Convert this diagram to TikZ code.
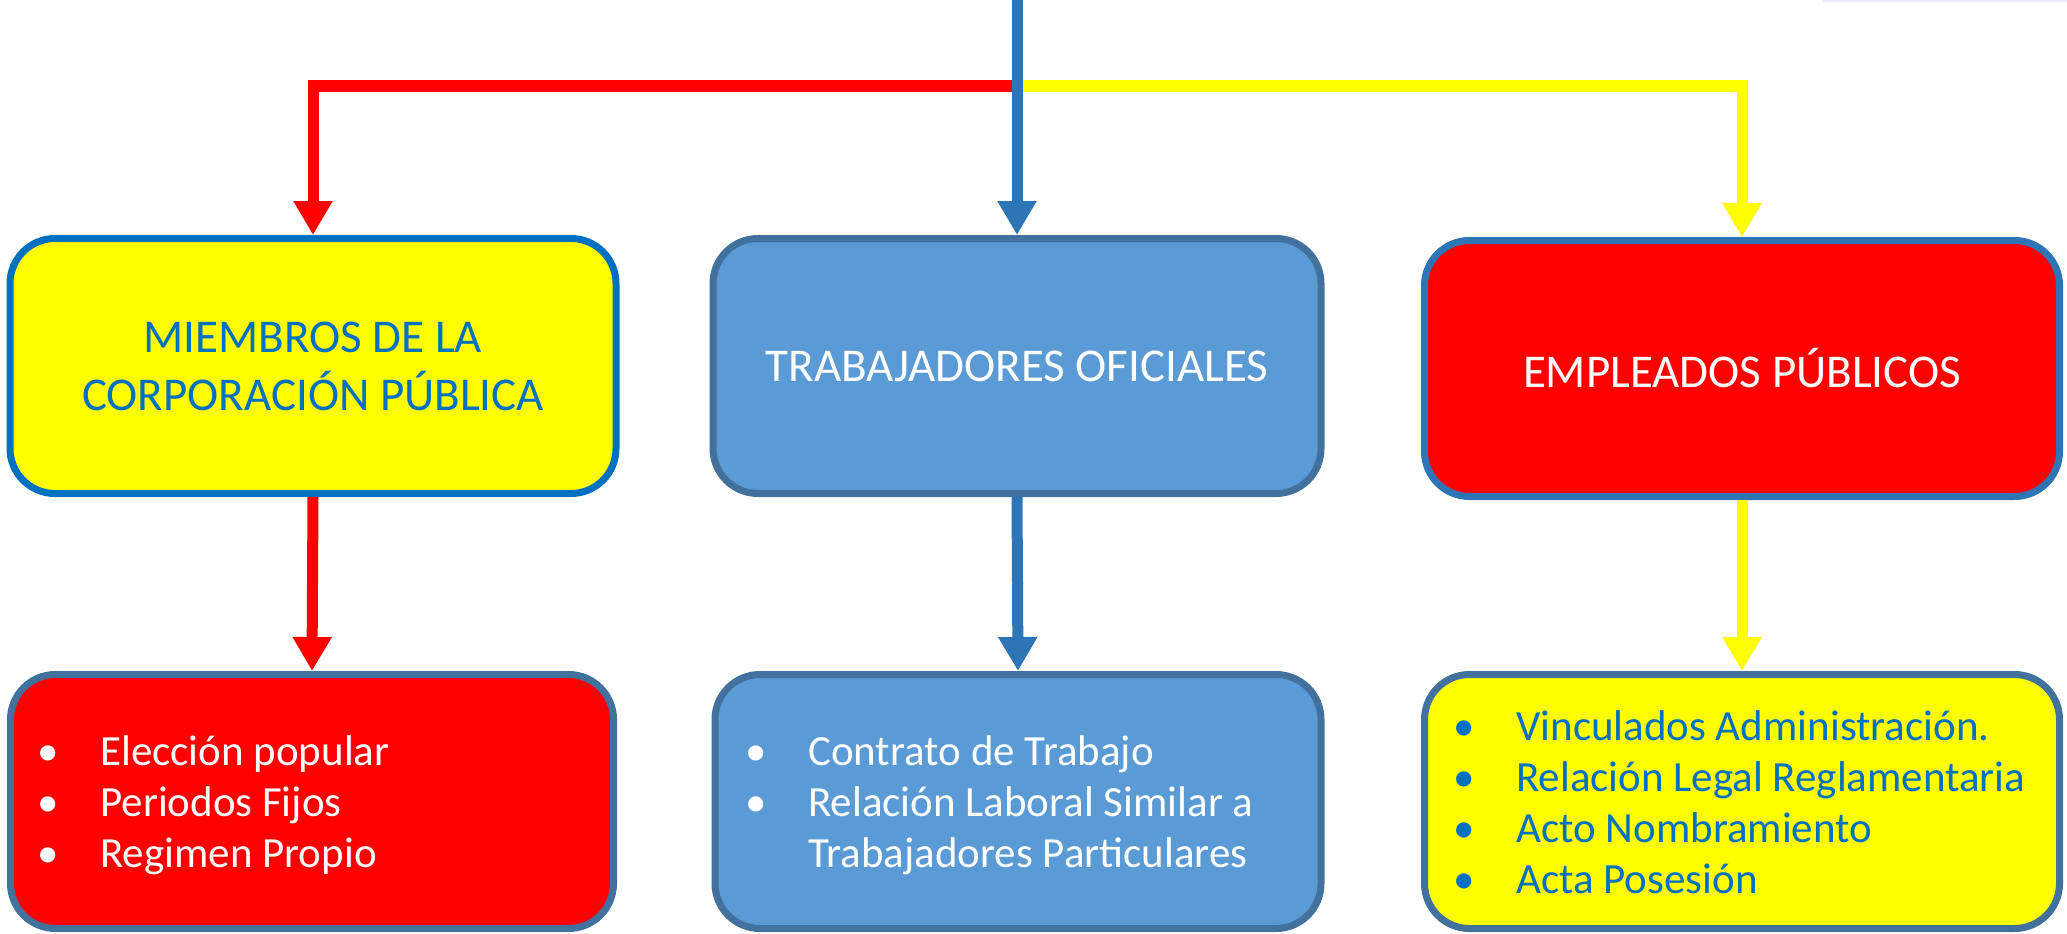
\documentclass[tikz,border=0pt]{standalone}
\usepackage{fontspec}
\setmainfont{Carlito}
\usetikzlibrary{arrows.meta}
\definecolor{lineblue}{HTML}{2E75B6}
\definecolor{pureRed}{HTML}{FF0000}
\definecolor{pureYellow}{HTML}{FFFF00}
\definecolor{textblue}{HTML}{0070C0}
\definecolor{midfill}{HTML}{5B9BD5}
\definecolor{darkborder}{HTML}{41719C}
\definecolor{faint}{HTML}{EDEEF6}
\newcommand{\bul}{\makebox[55pt][l]{\hspace{-8pt}\textbullet}}
\begin{document}
\begin{tikzpicture}[x=1pt,y=-1pt,
  box/.style={rounded corners=45pt, line width=7pt, minimum width=606pt, minimum height=255pt, inner sep=0pt, align=center},
  toptext/.style={font=\fontsize{47}{58}\selectfont},
  listtext/.style={font=\fontsize{43}{51}\selectfont, anchor=base west, inner sep=0pt, align=left},
  conn/.style={line width=11pt, -{Triangle[width=37pt,length=34pt]}}
]
\useasboundingbox (0,0) rectangle (2067,934);
\draw[faint, line width=2pt] (1823,1) -- (2067,1);

% top boxes
\node[box, toptext, fill=pureYellow, draw=textblue, text=textblue] (tl) at (313,366) {MIEMBROS DE LA\\CORPORACIÓN PÚBLICA};
\node[box, toptext, fill=midfill, draw=darkborder, text=white, minimum width=608pt] (tm) at (1017,366) {TRABAJADORES OFICIALES};
\node[box, toptext, fill=pureRed, draw=lineblue, text=white, minimum width=635pt, minimum height=256pt] (tr) at (1742,368.5) {EMPLEADOS PÚBLICOS};

% bottom boxes
\node[box, fill=pureRed, draw=darkborder, minimum width=603pt, minimum height=254pt] (bl) at (312,801.5) {};
\node[box, fill=midfill, draw=darkborder, minimum width=606pt, minimum height=254pt] (bm) at (1018,801.5) {};
\node[box, fill=pureYellow, draw=darkborder, minimum width=635pt, minimum height=254pt] (br) at (1742,801.5) {};

% list texts
\node[listtext, text=white] (bltext) at (45,765) {\begin{tabular}[t]{@{}l@{}}
\bul Elección popular\\
\bul Periodos Fijos\\
\bul Regimen Propio
\end{tabular}};
\node[listtext, text=white] (bmtext) at (753,765) {\begin{tabular}[t]{@{}l@{}}
\bul Contrato de Trabajo\\
\bul Relación Laboral Similar a\\
\makebox[55pt]{}Trabajadores Particulares
\end{tabular}};
\node[listtext, text=textblue] (brtext) at (1461,740) {\begin{tabular}[t]{@{}l@{}}
\bul Vinculados Administración.\\
\bul Relación Legal Reglamentaria\\
\bul Acto Nombramiento\\
\bul Acta Posesión
\end{tabular}};

% top connectors
\coordinate (top) at (1017,0);
\coordinate (j) at (1017,86);
\draw[conn, pureRed] (j) -| (tl.north);
\draw[conn, pureYellow] (j) -| (tr.north);
\draw[conn, lineblue] (top) -- (tm.north);

% bottom connectors
\draw[conn, pureRed] (tl.south) -- (bl.north);
\draw[conn, lineblue] (tm.south) -- (bm.north);
\draw[conn, pureYellow] (tr.south) -- (br.north);
\end{tikzpicture}
\end{document}
